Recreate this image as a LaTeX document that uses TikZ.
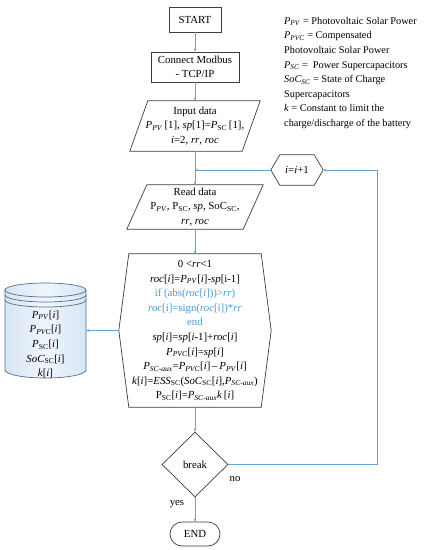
\documentclass[tikz,border=0pt]{standalone}
\usepackage{fontspec}
\setmainfont{Liberation Serif}
\usetikzlibrary{arrows.meta,shapes.geometric,calc}
\definecolor{lnc}{RGB}{105,162,210}
\definecolor{bdc}{RGB}{60,60,60}
\definecolor{bluetxt}{RGB}{70,152,212}
\definecolor{cylfill}{RGB}{214,229,244}
\definecolor{cylbd}{RGB}{85,110,140}
\newcommand\mi[1]{\textit{#1}}
\newcommand\sbi[1]{\textsubscript{\textit{#1}}}
\newcommand\sbu[1]{\textsubscript{#1}}
\newcommand\ff{\fontsize{10.8}{14.6}\selectfont}
\newcommand\fl{\fontsize{10.3}{14.6}\selectfont}
\begin{document}
\begin{tikzpicture}[x=1pt,y=-1pt,
  box/.style={draw=bdc, line width=0.7pt, fill=white, align=center, font=\ff, inner sep=1pt},
  txt/.style={align=center, font=\ff, inner sep=0pt},
  outl/.style={draw=bdc, line width=0.7pt},
  conn/.style={draw=lnc, line width=0.7pt, -{Stealth[length=3pt,width=2.6pt]}},
  plain/.style={draw=lnc, line width=0.7pt}]
\useasboundingbox (0,0) rectangle (425,550);

% nodes
\node[box, minimum width=52, minimum height=25] (start) at (195,19.5) {START};
\node[box, minimum width=88, minimum height=30] (modbus) at (195,67) {Connect Modbus\\- TCP/IP};

\node[txt, minimum width=130, minimum height=50] (input) at (195,126)
  {Input data\\ \mi{P}\sbi{PV}\,[1], \mi{sp}[1]=\mi{P}\sbu{SC}\,[1],\\ \mi{i}=2, \mi{rr}, \mi{roc}};
\draw[outl] ([xshift=18]input.north west) -- (input.north east) -- ([xshift=-18]input.south east) -- (input.south west) -- cycle;

\coordinate (jn) at (195,170);
\node[txt, minimum width=52, minimum height=30] (inc) at (297,170) {\mi{i}=\mi{i}+1};
\draw[outl] (inc.west) -- ([xshift=9]inc.north west) -- ([xshift=-9]inc.north east) -- (inc.east) -- ([xshift=-9]inc.south east) -- ([xshift=9]inc.south west) -- cycle;
\coordinate (rt) at (377,170);

\node[txt, minimum width=136, minimum height=44] (read) at (195,207)
  {Read data\\ P\sbi{PV}, P\sbu{SC}, \mi{sp}, SoC\sbu{SC},\\ \mi{rr}, \mi{roc}};
\draw[outl] ([xshift=20]read.north west) -- (read.north east) -- ([xshift=-20]read.south east) -- (read.south west) -- cycle;

\node[txt, minimum width=152, minimum height=153] (calc) at (195,330.5)
  {0 <\mi{rr}<1\\
   \mi{roc}[\mi{i}]=\mi{P}\sbi{PV}[\mi{i}]-\mi{sp}[i-1]\\
   \textcolor{bluetxt}{if (abs(\mi{roc}[\mi{i}]))>\mi{rr})}\\
   \textcolor{bluetxt}{\mi{roc}[i]=sign(\mi{roc}[i])*\mi{rr}}\\
   \textcolor{bluetxt}{end}\\
   \mi{sp}[\mi{i}]=\mi{sp}[\mi{i}-1]+\mi{roc}[\mi{i}]\\
   \mi{P}\sbi{PVC}[\mi{i}]=\mi{sp}[\mi{i}]\\
   \mi{P}\sbi{SC-aux}=\mi{P}\sbi{PVC}[\mi{i}]\,--\,\mi{P}\sbi{PV}[\mi{i}]\\
   \mi{k}[\mi{i}]=\mi{ESS}\sbu{SC}(\mi{SoC}\sbu{SC}[\mi{i}],\mi{P}\sbi{SC-aux})\\
   P\sbu{SC}[\mi{i}]=\mi{P}\sbi{SC-aux}\mi{k}\,[\mi{i}]};
\draw[outl] ([xshift=10]calc.north west) -- ([xshift=-10]calc.north east) -- (calc.east) -- ([xshift=-10]calc.south east) -- ([xshift=10]calc.south west) -- (calc.west) -- cycle;

\node[draw=bdc, line width=0.7pt, diamond, minimum width=66, minimum height=65, inner sep=0pt, font=\ff] (brk) at (195,464.5) {break};
\node[font=\ff, inner sep=0pt] (no) at (235,479) {no};
\node[font=\ff, inner sep=0pt] (yes) at (177,504) {yes};
\node[box, rounded corners=12pt, minimum width=50, minimum height=24] (end) at (195,534) {END};

% cylinder
\path[left color=cylfill, right color=cylfill, middle color=cylfill!35!white, draw=cylbd, line width=0.7pt]
  (5,290) -- (5,370) arc[start angle=180, end angle=360, x radius=40.5pt, y radius=8pt]
  -- (86,290) arc[start angle=0, end angle=180, x radius=40.5pt, y radius=7pt] -- cycle;
\draw[cylbd, line width=0.7pt] (5,290) arc[start angle=180, end angle=360, x radius=40.5pt, y radius=7pt];
\draw[cylbd, line width=0.7pt] (5,295) arc[start angle=180, end angle=360, x radius=40.5pt, y radius=7pt];
\draw[cylbd, line width=0.7pt] (5,300) arc[start angle=180, end angle=360, x radius=40.5pt, y radius=7pt];
\node[txt, minimum width=81, minimum height=75] (db) at (45.5,344.5)
  {\mi{P}\sbi{PV}[\mi{i}]\\ \mi{P}\sbi{PVC}[\mi{i}]\\ \mi{P}\sbu{SC}[\mi{i}]\\ \mi{SoC}\sbu{SC}[\mi{i}]\\ \mi{k}[\mi{i}]};

% legend
\node[anchor=north west, align=left, font=\fl, inner sep=0pt] (leg) at (284,17)
  {\mi{P}\sbi{PV} = Photovoltaic Solar Power\\
   \mi{P}\sbi{PVC} = Compensated\\
   Photovoltaic Solar Power\\
   \mi{P}\sbi{SC} =\ \ Power Supercapacitors\\
   \mi{SoC}\sbi{SC} = State of Charge\\
   Supercapacitors\\
   \mi{k} = Constant to limit the\\
   charge/discharge of the battery};

% connectors
\draw[conn] (start) -- (modbus);
\draw[conn] (modbus) -- (input);
\draw[conn] (input) -- (read);
\draw[conn] (inc.west) -- (jn);
\draw[conn] (read) -- (calc);
\draw[conn] (calc) -- (brk);
\draw[conn] (brk) -- (end);
\draw[conn] (brk.east) -| (rt) -- (inc.east);
\draw[conn] (calc.west) -- (calc.west -| db.east);
\end{tikzpicture}
\end{document}
